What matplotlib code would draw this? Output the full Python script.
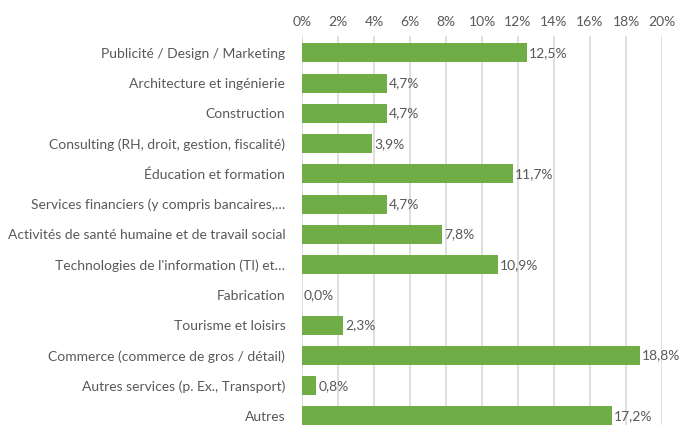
import matplotlib.pyplot as plt
from matplotlib.ticker import FuncFormatter

plt.rcParams['font.family'] = ['Lato', 'DejaVu Sans']

# secteurs d'activité et parts (%)
secteurs = [
    "Publicité / Design / Marketing",
    "Architecture et ingénierie",
    "Construction",
    "Consulting (RH, droit, gestion, fiscalité)",
    "Éducation et formation",
    "Services financiers (y compris bancaires,…",
    "Activités de santé humaine et de travail social",
    "Technologies de l'information (TI) et…",
    "Fabrication",
    "Tourisme et loisirs",
    "Commerce (commerce de gros / détail)",
    "Autres services (p. Ex., Transport)",
    "Autres",
]
parts = [12.5, 4.7, 4.7, 3.9, 11.7, 4.7, 7.8, 10.9, 0.0, 2.3, 18.8, 0.8, 17.2]
graduations = [0, 2, 4, 6, 8, 10, 12, 14, 16, 18, 20]

vert = '#70AD47'
gris = '#595959'

fig = plt.figure(figsize=(6.81, 4.25), dpi=100)
ax = fig.add_axes([302/681, 0, 360/681, 389/425])

pos = list(range(len(secteurs)))
ax.barh(pos, parts, height=0.63, color=vert, zorder=3)
for y, v in zip(pos, parts):
    ax.text(v + 0.1, y, f"{v:.1f}%".replace('.', ','), va='center', ha='left',
            fontsize=10, color=gris, zorder=4)

ax.set_xlim(0, 20)
ax.set_ylim(12.3, -0.56)
ax.set_xticks(graduations)
ax.xaxis.set_major_formatter(FuncFormatter(lambda x, _: f"{x:.0f}%"))
ax.xaxis.tick_top()
ax.set_yticks(pos)
ax.set_yticklabels(secteurs)
ax.tick_params(axis='both', length=0, labelsize=10, colors=gris)
ax.tick_params(axis='x', pad=6)
ax.tick_params(axis='y', pad=12)
ax.grid(axis='x', color='#D9D9D9', linewidth=1.2, zorder=0)
for s in ax.spines.values():
    s.set_visible(False)

fig.savefig('out.png', dpi=100)
